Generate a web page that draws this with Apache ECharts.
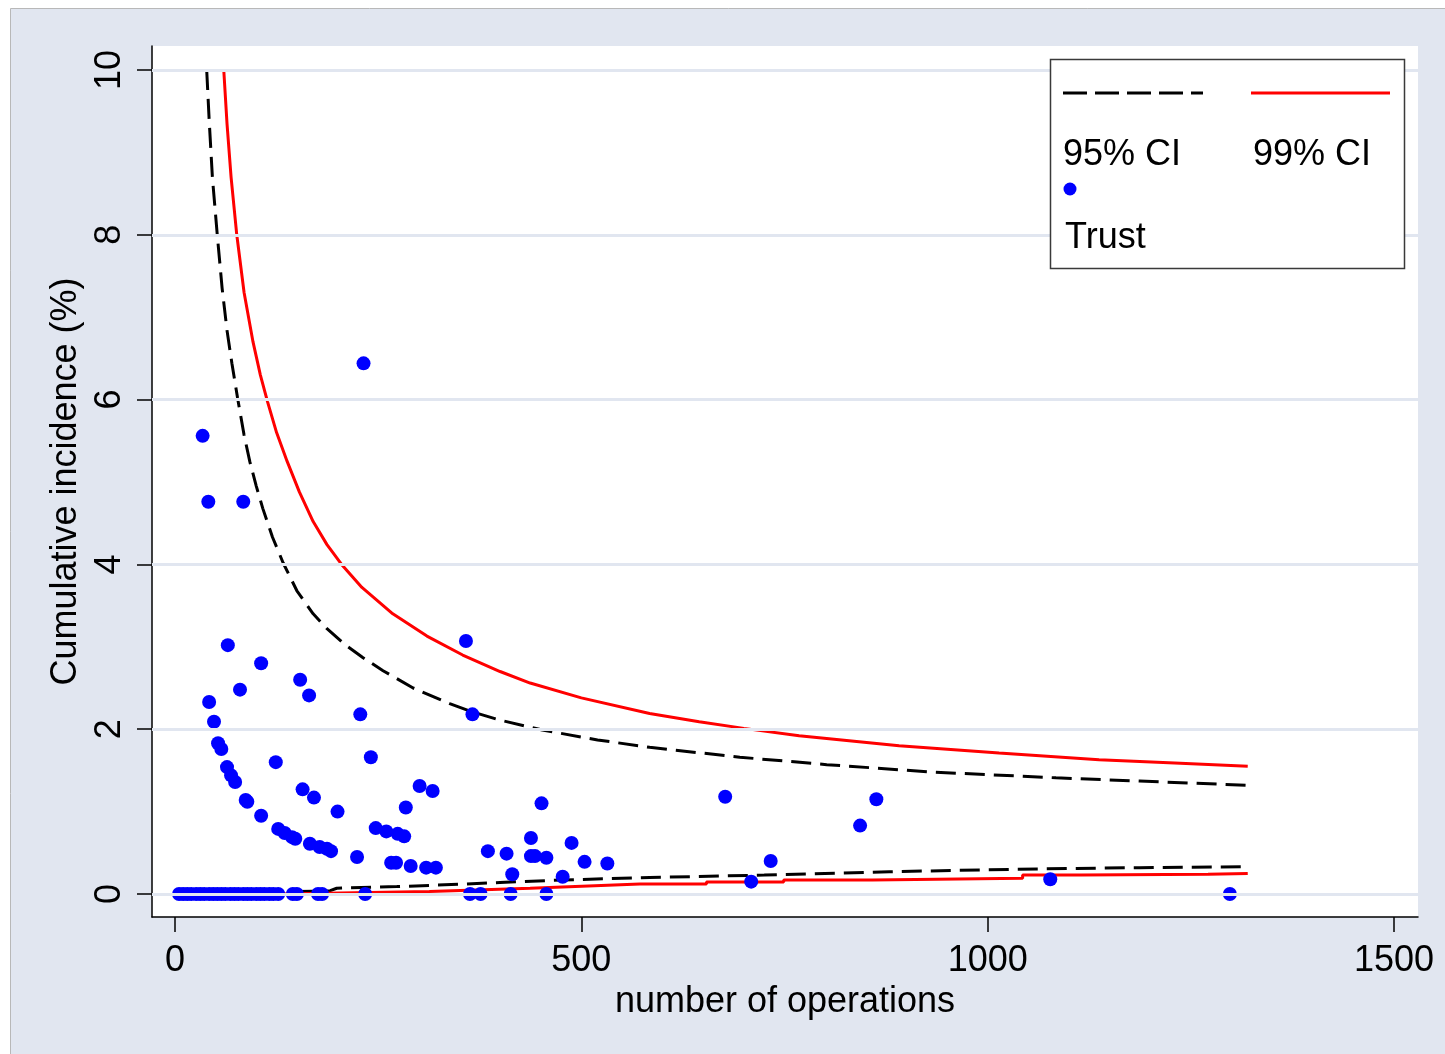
<!DOCTYPE html>
<html><head><meta charset="utf-8">
<script src="https://cdn.jsdelivr.net/npm/echarts@6/dist/echarts.min.js"></script>
<style>html,body{margin:0;padding:0;background:#fff}#c{width:1445px;height:1054px}</style>
</head><body><div id="c"></div>
<script>
// ---- tick labels ----
const xTicks = [0, 500, 1000, 1500];
const yTicks = [0, 2, 4, 6, 8, 10];
const xTitle = 'number of operations';
const yTitle = 'Cumulative incidence (%)';
const seriesNames = ['95% CI', '99% CI', 'Trust'];

// ---- 95% CI (dashed) ----
const ci95UpN  = [39, 42, 46, 52, 58, 64, 70, 77, 85, 92, 100, 108, 120, 133, 150, 170, 187, 210, 231, 256, 293, 338, 366, 400, 452, 520, 584, 695, 802, 931, 1084, 1187, 1320];
const ci95Up   = [10, 9.4, 8.7, 8.0, 7.35, 6.84, 6.44, 6.02, 5.57, 5.25, 4.95, 4.68, 4.33, 4.02, 3.68, 3.40, 3.22, 3.02, 2.87, 2.71, 2.50, 2.31, 2.21, 2.11, 1.99, 1.87, 1.78, 1.66, 1.57, 1.48, 1.41, 1.37, 1.32];
const ci95LoN  = [39, 129, 150, 191, 199, 273, 354, 400, 477, 584, 725, 879, 1033, 1187, 1320];
const ci95Lo   = [0, 0, 0.03, 0.04, 0.07, 0.09, 0.12, 0.14, 0.17, 0.20, 0.23, 0.27, 0.30, 0.32, 0.33];

// ---- 99% CI (red) ----
const ci99UpN  = [60, 64, 69, 76, 85, 96, 105, 114, 125, 138, 153, 170, 187, 205, 230, 268, 310, 354, 400, 437, 500, 584, 645, 700, 768, 891, 1014, 1137, 1230, 1320];
const ci99Up   = [10, 9.35, 8.7, 8.0, 7.3, 6.7, 6.3, 5.97, 5.6, 5.25, 4.88, 4.52, 4.24, 4.0, 3.72, 3.40, 3.13, 2.90, 2.70, 2.56, 2.38, 2.19, 2.09, 2.01, 1.92, 1.80, 1.71, 1.63, 1.59, 1.55];
const ci99LoN  = [60, 129, 313, 437, 572, 654, 654, 749, 749, 858, 858, 1043, 1043, 1115, 1115, 1271, 1271, 1320];
const ci99Lo   = [0, 0, 0.03, 0.07, 0.12, 0.12, 0.145, 0.145, 0.17, 0.17, 0.19, 0.19, 0.23, 0.23, 0.24, 0.24, 0.25, 0.25];

// ---- Trust points ----
const trustN = [5, 10, 15, 20, 26, 31, 36, 42, 47, 52, 57, 62, 68, 73, 78, 84, 89, 94, 100, 105, 110, 116, 121, 127, 145, 150, 176, 181, 234, 363, 376, 413, 457, 1298,
  34, 41, 84, 232, 65, 106, 80, 154, 165, 42, 48, 228, 358, 366,
  241, 124, 53, 57, 64, 69, 74, 87, 89, 106,
  127, 135, 144, 148, 166, 178, 187, 192,
  157, 171, 200, 224,
  247, 260, 274, 282, 284, 301, 317,
  266, 272, 290, 309, 321,
  385, 408, 415, 438, 438, 443, 451, 457, 477, 488, 504, 532,
  677, 709, 733, 843, 863, 1077];
const trustV = [0, 0, 0, 0, 0, 0, 0, 0, 0, 0, 0, 0, 0, 0, 0, 0, 0, 0, 0, 0, 0, 0, 0, 0, 0, 0, 0, 0, 0, 0, 0, 0, 0, 0,
  5.56, 4.76, 4.76, 6.44, 3.02, 2.80, 2.48, 2.60, 2.41, 2.33, 2.09, 2.18, 3.07, 2.18,
  1.66, 1.60, 1.83, 1.76, 1.54, 1.44, 1.36, 1.14, 1.12, 0.95,
  0.79, 0.74, 0.69, 0.67, 0.61, 0.57, 0.55, 0.52,
  1.27, 1.17, 1.00, 0.45,
  0.80, 0.76, 0.73, 0.70, 1.05, 1.31, 1.25,
  0.38, 0.38, 0.34, 0.32, 0.32,
  0.52, 0.49, 0.24, 0.68, 0.46, 0.46, 1.10, 0.44, 0.21, 0.62, 0.39, 0.37,
  1.18, 0.15, 0.40, 0.83, 1.15, 0.18];

const zip = (a, b) => a.map((v, i) => [v, b[i]]);
const FONT = 'Liberation Sans, Arial, sans-serif';
const BG = '#e1e6f0';

const chart = echarts.init(document.getElementById('c'), null, {renderer: 'canvas'});
const dashed = [20, 9];
chart.setOption({
  animation: false,
  backgroundColor: '#ffffff',
  textStyle: {fontFamily: FONT},
  graphic: [
    {type: 'rect', z: -10, silent: true, shape: {x: 10.5, y: 8.5, width: 1440, height: 1050},
     style: {fill: BG, stroke: '#b8b8b8', lineWidth: 1}},
    // legend box
    {type: 'rect', z: 100, shape: {x: 1050.5, y: 59.5, width: 354, height: 209}, style: {fill: '#fff', stroke: '#3a3a3a', lineWidth: 1.5}},
    {type: 'line', z: 101, shape: {x1: 1063, y1: 93, x2: 1203, y2: 93}, style: {stroke: '#000', lineWidth: 3, lineDash: [24, 8]}},
    {type: 'line', z: 101, shape: {x1: 1251, y1: 93, x2: 1390, y2: 93}, style: {stroke: '#ff0000', lineWidth: 3}},
    {type: 'text', z: 101, x: 1063, y: 155, style: {text: seriesNames[0], font: '36px ' + FONT, fill: '#000', textVerticalAlign: 'middle'}},
    {type: 'text', z: 101, x: 1253, y: 155, style: {text: seriesNames[1], font: '36px ' + FONT, fill: '#000', textVerticalAlign: 'middle'}},
    {type: 'circle', z: 101, shape: {cx: 1070, cy: 189, r: 6.5}, style: {fill: '#0000ff'}},
    {type: 'text', z: 101, x: 1065, y: 238, style: {text: seriesNames[2], font: '36px ' + FONT, fill: '#000', textVerticalAlign: 'middle'}}
  ],
  grid: {left: 152, top: 46, width: 1266, height: 871, show: true, backgroundColor: '#fff', borderWidth: 0},
  xAxis: {
    type: 'value', min: -28.3, max: 1529.5,
    name: xTitle, nameLocation: 'middle', nameGap: 59,
    nameTextStyle: {fontSize: 36, color: '#000', fontFamily: FONT},
    axisLine: {show: true, onZero: false, lineStyle: {color: '#000', width: 1.5}},
    axisTick: {show: true, length: 15, lineStyle: {color: '#000', width: 1.5}, customValues: xTicks},
    axisLabel: {fontSize: 36, color: '#000', margin: 26, customValues: xTicks, fontFamily: FONT, formatter: v => String(v)},
    splitLine: {show: false}
  },
  yAxis: {
    type: 'value', min: -0.279, max: 10.291,
    name: yTitle, nameLocation: 'middle', nameGap: 56, nameRotate: 90,
    nameTextStyle: {fontSize: 36, color: '#000', fontFamily: FONT},
    axisLine: {show: true, onZero: false, lineStyle: {color: '#000', width: 1.5}},
    axisTick: {show: true, length: 15, lineStyle: {color: '#000', width: 1.5}, customValues: yTicks},
    axisLabel: {fontSize: 36, color: '#000', margin: 24, rotate: 90, customValues: yTicks, fontFamily: FONT, formatter: v => String(v)},
    splitLine: {show: false}
  },
  series: [
    {type: 'line', data: [], silent: true, z: 1,
     markLine: {silent: true, symbol: 'none', label: {show: false}, animation: false,
       lineStyle: {color: BG, width: 3, type: 'solid'},
       data: yTicks.map(v => ({yAxis: v}))}},
    {name: '95% CI', type: 'line', data: zip(ci95UpN, ci95Up), showSymbol: false, z: 3,
     lineStyle: {color: '#000', width: 3, type: dashed}},
    {name: '95% CI lower', type: 'line', data: zip(ci95LoN, ci95Lo), showSymbol: false, z: 3,
     lineStyle: {color: '#000', width: 3, type: dashed}},
    {name: '99% CI', type: 'line', data: zip(ci99UpN, ci99Up), showSymbol: false, z: 3,
     lineStyle: {color: '#ff0000', width: 3}},
    {name: '99% CI lower', type: 'line', data: zip(ci99LoN, ci99Lo), showSymbol: false, z: 3,
     lineStyle: {color: '#ff0000', width: 3}},
    {name: 'Trust', type: 'scatter', data: zip(trustN, trustV), symbolSize: 14, z: 4,
     itemStyle: {color: '#0000ff', opacity: 1}}
  ]
});
</script>
</body></html>
